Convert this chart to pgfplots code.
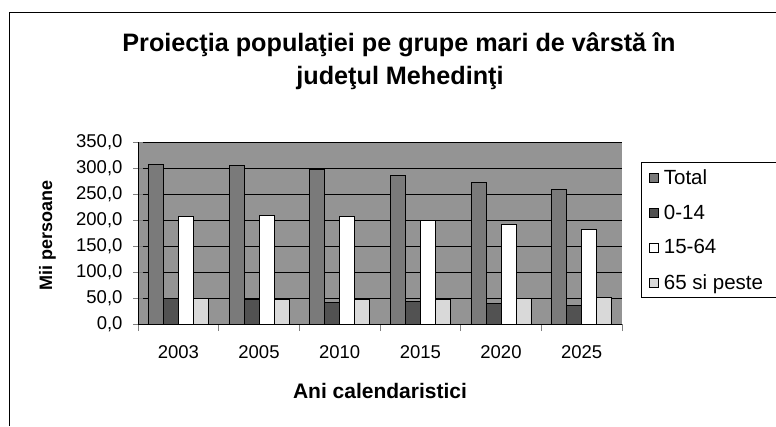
\documentclass[border=0pt]{standalone}
\usepackage{pgfplots}
\pgfplotsset{compat=1.18}
\usepackage{fontspec}
\setmainfont{Liberation Sans}
\begin{document}
\begin{tikzpicture}[x=1pt,y=1pt]
\useasboundingbox (0,0) rectangle (776,426);
\draw[line width=1pt] (9,0) -- (9,413) -- (790,413);
\begin{axis}[
  at={(138pt,102pt)}, anchor=south west,
  scale only axis, width=484pt, height=182pt,
  ybar=0pt, bar width=15pt,
  xmin=-0.5, xmax=5.5, ymin=0, ymax=350,
  xtick={0,1,2,3,4,5},
  xticklabels={2003,2005,2010,2015,2020,2025},
  minor xtick={-0.5,0.5,1.5,2.5,3.5,4.5,5.5},
  ytick={0,50,100,150,200,250,300,350},
  axis x line*=bottom, axis y line*=left,
  axis line style={line width=0.8pt},
  tick align=center,
  major tick length=10pt, minor tick length=7pt,
  major x tick style={draw=none},
  minor x tick style={yshift=-3.5pt, line width=0.8pt},
  y tick style={line width=0.8pt},
  ymajorgrids, major grid style={black, line width=0.6pt},
  axis background/.style={fill=black!42},
  /pgf/number format/.cd, fixed, fixed zerofill, precision=1, use comma, assume math mode=true,
  /pgfplots/.cd,
  tick label style={font=\fontsize{18.5}{21}\selectfont},
  xticklabel style={yshift=-13pt},
  yticklabel style={xshift=-7pt},
  legend style={at={(rel axis cs:1.039,0.89)}, anchor=north west, draw=black, fill=white,
    font=\fontsize{20.5}{23}\selectfont, inner xsep=8pt, inner ysep=5pt, row sep=15pt,
    line width=0.8pt, cells={anchor=west}, nodes={inner xsep=5pt}},
  legend image code/.code={\draw[#1, line width=0.6pt] (0pt,-4.5pt) rectangle (9pt,4.5pt);},
]
\addplot[fill=black!52, draw=black, line width=0.8pt] coordinates {(0,306.7) (1,305) (2,297) (3,285) (4,273) (5,259)};
\addplot[fill=black!68, draw=black, line width=0.8pt] coordinates {(0,50) (1,48) (2,42) (3,44) (4,39) (5,36)};
\addplot[fill=white, draw=black, line width=0.8pt] coordinates {(0,206) (1,209.5) (2,206) (3,200) (4,192) (5,181)};
\addplot[fill=black!15, draw=black, line width=0.8pt] coordinates {(0,49) (1,48) (2,48) (3,48) (4,49) (5,51)};
\legend{Total,0-14,15-64,65 si peste}
\end{axis}
\node[font=\bfseries\fontsize{25.2}{29}\selectfont, anchor=base] at (399,374) {Proiecţia populaţiei pe grupe mari de vârstă în};
\node[font=\bfseries\fontsize{25.2}{29}\selectfont, anchor=base] at (400,341) {judeţul Mehedinţi};
\node[font=\bfseries\fontsize{21}{24}\selectfont, anchor=base] at (380,28) {Ani calendaristici};
\node[font=\bfseries\fontsize{18}{22}\selectfont, rotate=90, anchor=base] at (52,191) {Mii persoane};
\end{tikzpicture}
\end{document}
